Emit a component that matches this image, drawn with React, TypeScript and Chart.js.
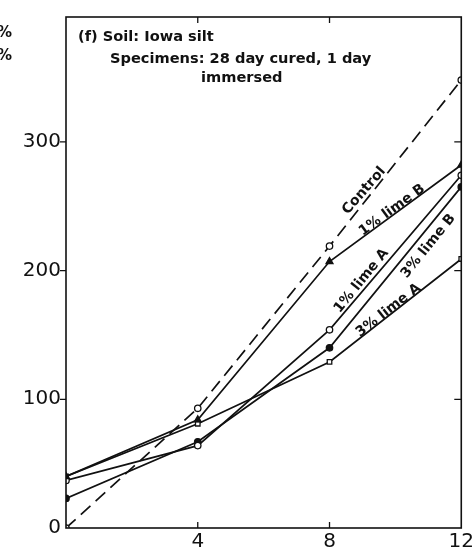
import React, { useEffect, useRef } from "react";
import { Chart, registerables } from "chart.js";

Chart.register(...registerables);

// x positions of the measurements
const xValues = [0, 4, 8, 12];

// series values (one per x position)
const control = [0, 93, 219, 348];
const lime1B = [40, 84, 207, 282];
const lime1A = [37, 64, 154, 274];
const lime3B = [23, 67, 140, 265];
const lime3A = [40, 81, 129, 209];

// axis ticks
const xTicks = [4, 8, 12];
const yTicks = [0, 100, 200, 300];
const yMax = 397;

// labels written along the curves (data coordinates of the text centre)
const curveLabels = [
  { text: "Control", x: 9.05, y: 262, angle: -49 },
  { text: "1% lime B", x: 9.9, y: 247, angle: -36 },
  { text: "1% lime A", x: 8.97, y: 192, angle: -51 },
  { text: "3% lime B", x: 11.0, y: 219, angle: -51 },
  { text: "3% lime A", x: 9.79, y: 169, angle: -38 },
];

const headerLines = [
  { text: "(f) Soil: Iowa silt", px: 78, py: 37 },
  { text: "Specimens: 28 day cured, 1 day", px: 110, py: 59 },
  { text: "immersed", px: 201, py: 78 },
];

const FONT = "'DejaVu Sans', sans-serif";

const frameAndText = {
  id: "frameAndText",
  afterDraw(chart: any) {
    const { ctx, chartArea, scales } = chart;
    const { left, right, top, bottom } = chartArea;
    const xs = scales.x;
    const ys = scales.y;
    ctx.save();
    ctx.strokeStyle = "#111";
    ctx.lineWidth = 1.6;
    ctx.strokeRect(left, top, right - left, bottom - top);

    ctx.lineWidth = 1.3;
    ctx.beginPath();
    for (const v of yTicks.filter((t) => t > 0)) {
      const py = ys.getPixelForValue(v);
      ctx.moveTo(left - 6, py);
      ctx.lineTo(left, py);
      ctx.moveTo(right - 7, py);
      ctx.lineTo(right, py);
    }
    for (const v of xTicks.filter((t) => t < 12)) {
      const px = xs.getPixelForValue(v);
      ctx.moveTo(px, bottom);
      ctx.lineTo(px, bottom - 6);
      ctx.moveTo(px, top);
      ctx.lineTo(px, top + 6);
    }
    ctx.stroke();

    ctx.fillStyle = "#111";
    ctx.font = `bold 14.6px ${FONT}`;
    ctx.textAlign = "left";
    ctx.textBaseline = "middle";
    for (const h of headerLines) ctx.fillText(h.text, h.px, h.py);

    ctx.font = `bold 15px ${FONT}`;
    ctx.fillText("%", -3, 33);
    ctx.fillText("%", -3, 56);

    ctx.font = `bold 14px ${FONT}`;
    ctx.textAlign = "center";
    for (const l of curveLabels) {
      ctx.save();
      ctx.translate(xs.getPixelForValue(l.x), ys.getPixelForValue(l.y));
      ctx.rotate((l.angle * Math.PI) / 180);
      ctx.fillText(l.text, 0, 0);
      ctx.restore();
    }
    ctx.restore();
  },
};

function series(label: string, values: number[], style: string, filled: boolean, dashed = false) {
  return {
    label,
    data: xValues.map((x, i) => ({ x, y: values[i] })),
    borderColor: "#111",
    borderWidth: 1.7,
    borderDash: dashed ? [13, 7] : [],
    pointStyle: style,
    pointRadius: style === "triangle" ? 4 : 3.2,
    pointBorderWidth: 1.3,
    pointBorderColor: "#111",
    pointBackgroundColor: filled ? "#111" : "#fff",
    tension: 0,
    fill: false,
  };
}

export default function App() {
  const ref = useRef<HTMLCanvasElement>(null);

  useEffect(() => {
    if (!ref.current) return;
    const chart = new Chart(ref.current, {
      type: "line",
      data: {
        datasets: [
          series("Control", control, "circle", false, true),
          series("1% lime B", lime1B, "triangle", true),
          series("1% lime A", lime1A, "circle", false),
          series("3% lime B", lime3B, "circle", true),
          series("3% lime A", lime3A, "rect", false),
        ] as any,
      },
      options: {
        responsive: false,
        animation: false,
        layout: { padding: { left: 0, right: 14, top: 16, bottom: 0 } },
        plugins: { legend: { display: false }, tooltip: { enabled: false } },
        scales: {
          x: {
            type: "linear",
            min: 0,
            max: 12,
            grid: { display: false, drawTicks: false },
            border: { display: false },
            ticks: { color: "#111", font: { family: FONT, size: 20 }, padding: 2, maxRotation: 0 },
            afterBuildTicks: (axis: any) => {
              axis.ticks = xTicks.map((v) => ({ value: v }));
            },
            afterFit: (axis: any) => {
              axis.height = 23;
            },
          },
          y: {
            type: "linear",
            min: 0,
            max: yMax,
            grid: { display: false, drawTicks: false },
            border: { display: false },
            ticks: { color: "#111", font: { family: FONT, size: 20 }, padding: 5 },
            afterBuildTicks: (axis: any) => {
              axis.ticks = yTicks.map((v) => ({ value: v }));
            },
            afterFit: (axis: any) => {
              axis.width = 66;
            },
          },
        },
      } as any,
      plugins: [frameAndText],
    });
    return () => chart.destroy();
  }, []);

  return (
    <div style={{ position: "fixed", left: 0, top: 0, width: 476, height: 551, background: "#fff" }}>
      <canvas ref={ref} width={476} height={551} />
    </div>
  );
}
